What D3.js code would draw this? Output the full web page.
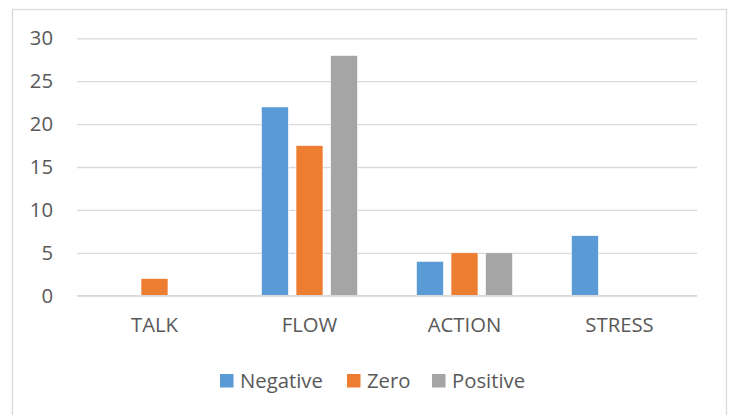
<!DOCTYPE html>
<html>
<head>
<meta charset="utf-8">
<script src="https://cdn.jsdelivr.net/npm/d3@7"></script>
<style>
  html, body { margin: 0; padding: 0; background: #fff; }
  svg { display: block; }
  text { font-family: "Open Sans", "Noto Sans", sans-serif; fill: #595959; }
</style>
</head>
<body>
<svg id="chart" width="730" height="415"></svg>
<script>
// Counts per category for each sign of change
const categories = ["TALK", "FLOW", "ACTION", "STRESS"];
const seriesNames = ["Negative", "Zero", "Positive"];
const negativeValues = [0, 22, 4, 7];
const zeroValues = [2, 17.5, 5, 0];
const positiveValues = [0, 28, 5, 0];
const yTicks = [0, 5, 10, 15, 20, 25, 30];
const seriesColors = ["#5B9BD5", "#ED7D31", "#A5A5A5"];

const seriesValues = [negativeValues, zeroValues, positiveValues];

const svg = d3.select("#chart");
const plot = { left: 77, right: 697, top: 38.3, bottom: 295.7 };
const fontSize = 20.3;

// Outer chart frame
svg.append("rect")
  .attr("x", 12.5).attr("y", 9.5)
  .attr("width", 714).attr("height", 430)
  .attr("fill", "none")
  .attr("stroke", "#d9d9d9")
  .attr("stroke-width", 1.3);

const x0 = d3.scaleBand()
  .domain(categories)
  .range([plot.left, plot.right])
  .paddingInner(0.38)
  .paddingOuter(0.19);

const x1 = d3.scaleBand()
  .domain(seriesNames)
  .range([0, x0.bandwidth()])
  .paddingInner(0.22)
  .paddingOuter(0);

const y = d3.scaleLinear()
  .domain([0, 30])
  .range([plot.bottom, plot.top]);

// Horizontal gridlines with value labels
const yAxis = d3.axisLeft(y)
  .tickValues(yTicks)
  .tickSize(-(plot.right - plot.left))
  .tickPadding(24)
  .tickFormat(d3.format("d"));

const yG = svg.append("g")
  .attr("transform", `translate(${plot.left},0)`)
  .call(yAxis);
yG.select(".domain").remove();
yG.selectAll(".tick line")
  .attr("stroke", "#d9d9d9")
  .attr("stroke-width", 1.3);
yG.selectAll(".tick text")
  .attr("font-size", fontSize)
  .attr("font-family", "'Open Sans', sans-serif")
  .attr("fill", "#595959");

// Bars
const groups = svg.append("g")
  .selectAll("g")
  .data(categories)
  .join("g")
  .attr("transform", d => `translate(${x0(d)},0)`);

groups.selectAll("rect")
  .data((c, i) => seriesNames.map((s, k) => ({ series: s, value: seriesValues[k][i], color: seriesColors[k] })))
  .join("rect")
  .filter(d => d.value > 0)
  .attr("x", d => x1(d.series))
  .attr("y", d => y(d.value))
  .attr("width", x1.bandwidth())
  .attr("height", d => y(0) - y(d.value))
  .attr("fill", d => d.color)
  .attr("stroke", "#ffffff")
  .attr("stroke-width", 0.6);

// Category axis (baseline redrawn on top of bars)
svg.append("line")
  .attr("x1", plot.left).attr("x2", plot.right)
  .attr("y1", y(0)).attr("y2", y(0))
  .attr("stroke", "#d9d9d9")
  .attr("stroke-width", 1.5);

const xAxis = d3.axisBottom(x0).tickSize(0).tickPadding(22);
const xG = svg.append("g")
  .attr("transform", `translate(0,${y(0)})`)
  .call(xAxis);
xG.select(".domain").remove();
xG.selectAll(".tick text")
  .attr("font-size", fontSize)
  .attr("font-family", "'Open Sans', sans-serif")
  .attr("fill", "#595959");

// Legend
const legendX = [220, 347, 432];
const legend = svg.append("g")
  .selectAll("g")
  .data(seriesNames)
  .join("g")
  .attr("transform", (d, i) => `translate(${legendX[i]},374)`);
legend.append("rect")
  .attr("width", 13.5).attr("height", 13.5)
  .attr("fill", (d, i) => seriesColors[i]);
legend.append("text")
  .attr("x", 20).attr("y", 7)
  .attr("dy", "0.36em")
  .attr("font-size", fontSize)
  .text(d => d);
</script>
</body>
</html>
